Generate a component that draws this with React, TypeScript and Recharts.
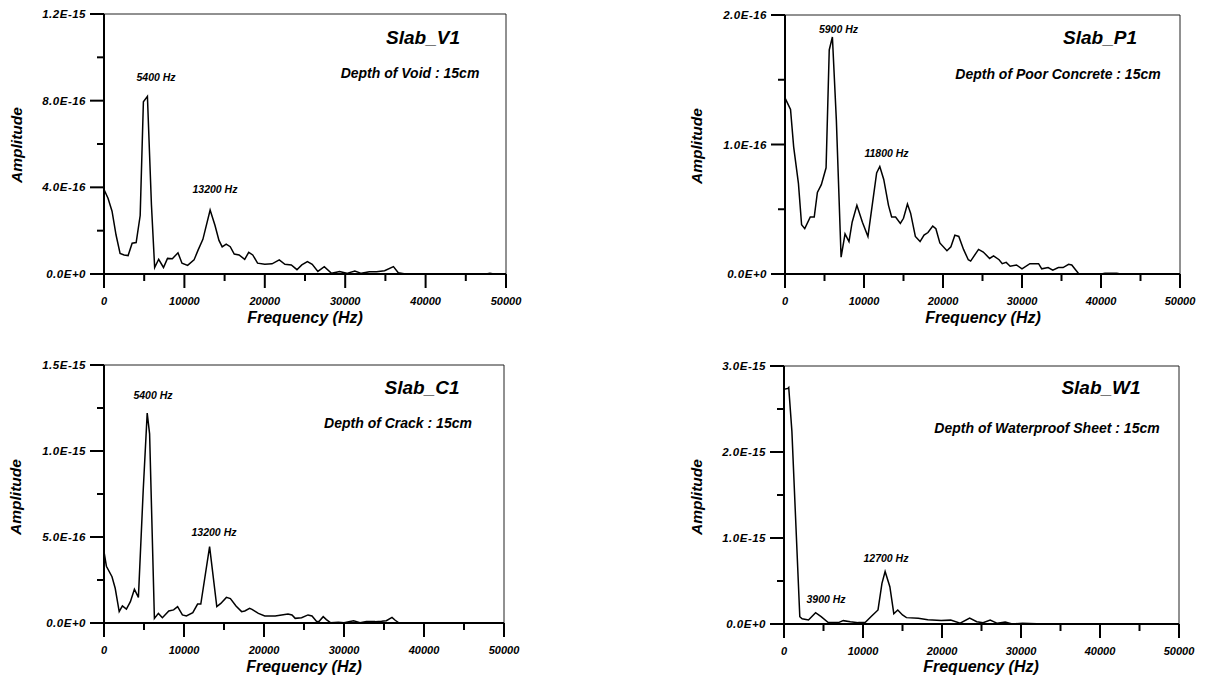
import React from 'react';
import { LineChart, Line, XAxis, YAxis, ReferenceArea, ReferenceDot } from 'recharts';

// Amplitudes are stored in units of 1E-16
const AMP_UNIT = 1e-16;
const FREQ_MAX = 50000;
const FREQ_TICKS = [0, 5000, 10000, 15000, 20000, 25000, 30000, 35000, 40000, 45000, 50000];
const FREQ_MAJOR = 10000;

// ---- Slab_V1 : Depth of Void : 15cm ----
const v1Freq = [0, 500, 1000, 1500, 2000, 2500, 3000, 3500, 4000, 4500, 4900, 5400, 5900, 6300, 6800, 7400, 7900, 8500, 9200, 9700, 10400, 11200, 11700, 12300, 13200, 13800, 14300, 14700, 15200, 15700, 16200, 16800, 17500, 18000, 18500, 19100, 20000, 20900, 21800, 22500, 23300, 24000, 24600, 25300, 25900, 26600, 27400, 28300, 29300, 30200, 31200, 32000, 33000, 33900, 34900, 36000, 36600, 37500, 40000, 45000, 47500, 48000, 48500, 50000];
const v1Amp = [3.9, 3.5, 2.9, 1.8, 0.95, 0.88, 0.85, 1.42, 1.45, 2.7, 7.95, 8.2, 3.2, 0.3, 0.68, 0.3, 0.72, 0.7, 0.98, 0.5, 0.4, 0.65, 1.1, 1.6, 2.95, 2.25, 1.55, 1.25, 1.38, 1.26, 0.92, 0.88, 0.68, 1.0, 0.88, 0.5, 0.45, 0.47, 0.65, 0.45, 0.42, 0.2, 0.42, 0.57, 0.45, 0.12, 0.34, 0.03, 0.11, 0.03, 0.14, 0.03, 0.1, 0.1, 0.15, 0.34, 0.06, 0, 0, 0, 0, 0.03, 0, 0];
const v1YTicks = [0, 2, 4, 6, 8, 10, 12];
const v1PeakText = ['5400 Hz', '13200 Hz'];
const v1PeakFreq = [6470, 13800];
const v1PeakAmp = [8.9, 3.74];

// ---- Slab_P1 : Depth of Poor Concrete : 15cm ----
const p1Freq = [0, 700, 1100, 1700, 2100, 2500, 3200, 3700, 4100, 4600, 5200, 5600, 6000, 6500, 7100, 7600, 8100, 8500, 9100, 9800, 10500, 11600, 12000, 12500, 13100, 13500, 14000, 14600, 15000, 15500, 15900, 16500, 17100, 17600, 18100, 18700, 19100, 19600, 20500, 21000, 21500, 22000, 22600, 23200, 23500, 24500, 25100, 25900, 26400, 27100, 27500, 28000, 28500, 29300, 30000, 31000, 32100, 32500, 33300, 33900, 34600, 35200, 35900, 36300, 37200, 40000, 40500, 41500, 42000, 42500, 50000];
const p1Amp = [1.36, 1.27, 0.98, 0.7, 0.38, 0.35, 0.44, 0.44, 0.63, 0.69, 0.82, 1.73, 1.83, 1.19, 0.13, 0.31, 0.25, 0.4, 0.53, 0.4, 0.29, 0.78, 0.83, 0.73, 0.53, 0.44, 0.44, 0.39, 0.43, 0.54, 0.47, 0.29, 0.25, 0.3, 0.32, 0.37, 0.35, 0.24, 0.18, 0.21, 0.3, 0.29, 0.19, 0.11, 0.1, 0.19, 0.17, 0.12, 0.14, 0.11, 0.08, 0.09, 0.06, 0.07, 0.04, 0.08, 0.08, 0.04, 0.05, 0.03, 0.05, 0.05, 0.075, 0.07, 0, 0, 0.005, 0.005, 0.005, 0, 0];
const p1YTicks = [0, 0.5, 1, 1.5, 2];
const p1PeakText = ['5900 Hz', '11800 Hz'];
const p1PeakFreq = [6770, 12850];
const p1PeakAmp = [1.86, 0.9];

// ---- Slab_C1 : Depth of Crack : 15cm ----
const c1Freq = [0, 300, 1000, 1400, 1900, 2300, 2800, 3300, 3800, 4300, 4900, 5400, 5700, 6300, 6800, 7300, 8100, 8700, 9200, 9800, 10300, 11100, 11700, 12100, 13200, 14100, 14600, 15300, 15800, 16500, 17200, 17600, 18200, 18500, 19300, 20100, 21400, 22200, 23000, 23500, 23900, 24700, 25500, 26000, 26600, 26900, 27400, 27800, 28300, 29300, 30000, 31200, 32000, 32800, 33900, 34700, 35300, 36000, 36400, 36900, 50000];
const c1Amp = [4.15, 3.3, 2.69, 2.02, 0.66, 0.99, 0.81, 1.24, 1.96, 1.49, 7.7, 12.2, 11.0, 0.27, 0.56, 0.31, 0.7, 0.76, 0.95, 0.47, 0.41, 0.6, 1.1, 1.1, 4.44, 0.95, 1.14, 1.49, 1.42, 0.99, 0.66, 0.7, 0.85, 0.79, 0.56, 0.41, 0.41, 0.47, 0.52, 0.47, 0.27, 0.31, 0.47, 0.41, 0.08, 0.1, 0.37, 0.2, 0.02, 0.04, 0.02, 0.13, 0.02, 0.08, 0.08, 0.1, 0.13, 0.33, 0.16, 0, 0];
const c1YTicks = [0, 2.5, 5, 7.5, 10, 12.5, 15];
const c1PeakText = ['5400 Hz', '13200 Hz'];
const c1PeakFreq = [6120, 13750];
const c1PeakAmp = [13.0, 5.06];

// ---- Slab_W1 : Depth of Waterproof Sheet : 15cm ----
const w1Freq = [0, 500, 600, 1000, 2000, 2300, 3100, 4000, 4700, 5600, 6900, 7500, 8400, 9400, 10300, 11100, 11900, 12400, 12800, 13400, 13900, 14400, 15000, 15500, 17000, 18200, 19900, 21100, 22300, 23500, 24400, 25200, 26100, 27000, 28000, 28900, 30200, 32000, 50000];
const w1Amp = [27.3, 27.4, 27.5, 22.4, 0.85, 0.6, 0.47, 1.31, 0.85, 0.16, 0.16, 0.39, 0.27, 0.16, 0.2, 0.93, 1.63, 4.73, 6.1, 4.34, 1.2, 1.63, 1.05, 0.74, 0.66, 0.5, 0.4, 0.45, 0.1, 0.7, 0.27, 0.16, 0.47, 0.08, 0.23, 0.0, 0.08, 0.02, 0];
const w1YTicks = [0, 5, 10, 15, 20, 25, 30];
const w1PeakText = ['3900 Hz', '12700 Hz'];
const w1PeakFreq = [5320, 12910];
const w1PeakAmp = [2.44, 7.2];

const FONT = '"Liberation Sans", Arial, Helvetica, sans-serif';

const fmtAmp = (v: number) => (v * AMP_UNIT).toExponential(1).toUpperCase();
const isMajor = (v: number, step: number) => Math.abs(v / step - Math.round(v / step)) < 1e-6;

const YTick = (props: any) => {
  const { x, y, payload, major } = props;
  const mj = isMajor(payload.value, major);
  return (
    <g>
      <line x1={x - (mj ? 14 : 7)} x2={x} y1={y} y2={y} stroke="#000" strokeWidth={2} />
      {mj && (
        <text x={x - 18} y={y} dy="0.36em" textAnchor="end" fontFamily={FONT} fontWeight="bold" fontStyle="italic" fontSize={11.5} letterSpacing={0.5} fill="#000">
          {fmtAmp(payload.value)}
        </text>
      )}
    </g>
  );
};

const XTick = (props: any) => {
  const { x, y, payload } = props;
  const mj = isMajor(payload.value, FREQ_MAJOR);
  return (
    <g>
      <line x1={x} x2={x} y1={y} y2={y + (mj ? 14 : 7)} stroke="#000" strokeWidth={2} />
      {mj && (
        <text x={x} y={y + 31} textAnchor="middle" fontFamily={FONT} fontWeight="bold" fontStyle="italic" fontSize={11} fill="#000">
          {payload.value}
        </text>
      )}
    </g>
  );
};

type PanelDef = {
  freq: number[]; amp: number[]; yTicks: number[]; yMajor: number;
  peakText: string[]; peakFreq: number[]; peakAmp: number[];
  chart: { left: number; top: number; width: number; height: number };
  box: { x0: number; y0: number; x1: number; y1: number };
  title: string; subtitle: string;
  titleX: number; titleY: number; subX: number; subY: number;
  ampX: number; ampY: number; freqX: number; freqY: number;
};

const panels: PanelDef[] = [
  {
    freq: v1Freq, amp: v1Amp, yTicks: v1YTicks, yMajor: 4,
    peakText: v1PeakText, peakFreq: v1PeakFreq, peakAmp: v1PeakAmp,
    chart: { left: 0, top: 0, width: 560, height: 335 },
    box: { x0: 104, y0: 14, x1: 506, y1: 274 },
    title: 'Slab_V1', subtitle: 'Depth of Void : 15cm',
    titleX: 423, titleY: 44, subX: 410, subY: 78,
    ampX: 22, ampY: 145, freqX: 305, freqY: 323,
  },
  {
    freq: p1Freq, amp: p1Amp, yTicks: p1YTicks, yMajor: 1,
    peakText: p1PeakText, peakFreq: p1PeakFreq, peakAmp: p1PeakAmp,
    chart: { left: 680, top: 0, width: 530, height: 335 },
    box: { x0: 785, y0: 15, x1: 1180, y1: 274 },
    title: 'Slab_P1', subtitle: 'Depth of Poor Concrete : 15cm',
    titleX: 1100, titleY: 44, subX: 1058, subY: 79,
    ampX: 702, ampY: 146, freqX: 983, freqY: 323,
  },
  {
    freq: c1Freq, amp: c1Amp, yTicks: c1YTicks, yMajor: 5,
    peakText: c1PeakText, peakFreq: c1PeakFreq, peakAmp: c1PeakAmp,
    chart: { left: 0, top: 340, width: 560, height: 337 },
    box: { x0: 104, y0: 365, x1: 504, y1: 623 },
    title: 'Slab_C1', subtitle: 'Depth of Crack : 15cm',
    titleX: 422, titleY: 394, subX: 398, subY: 428,
    ampX: 21, ampY: 497, freqX: 304, freqY: 672,
  },
  {
    freq: w1Freq, amp: w1Amp, yTicks: w1YTicks, yMajor: 10,
    peakText: w1PeakText, peakFreq: w1PeakFreq, peakAmp: w1PeakAmp,
    chart: { left: 680, top: 340, width: 530, height: 337 },
    box: { x0: 784, y0: 366, x1: 1179, y1: 624 },
    title: 'Slab_W1', subtitle: 'Depth of Waterproof Sheet : 15cm',
    titleX: 1101, titleY: 394, subX: 1047, subY: 433,
    ampX: 702, ampY: 497, freqX: 981, freqY: 672,
  },
];

const Y_AXIS_W = 60;
const X_AXIS_H = 40;

function Panel({ p }: { p: PanelDef }) {
  const data = p.freq.map((f, i) => ({ f, a: p.amp[i] }));
  const yMax = p.yTicks[p.yTicks.length - 1];
  const margin = {
    left: p.box.x0 - p.chart.left - Y_AXIS_W,
    top: p.box.y0 - p.chart.top,
    right: p.chart.left + p.chart.width - p.box.x1,
    bottom: p.chart.top + p.chart.height - p.box.y1 - X_AXIS_H,
  };
  return (
    <div style={{ position: 'absolute', left: p.chart.left, top: p.chart.top }}>
      <LineChart width={p.chart.width} height={p.chart.height} data={data} margin={margin}>
        <ReferenceArea x1={0} x2={FREQ_MAX} y1={0} y2={yMax} fill="none" fillOpacity={0} stroke="#222" strokeWidth={1} ifOverflow="visible" />
        <XAxis
          type="number" dataKey="f" domain={[0, FREQ_MAX]} ticks={FREQ_TICKS} interval={0}
          height={X_AXIS_H} tickLine={false} tickSize={0} tickMargin={0}
          axisLine={{ stroke: '#000', strokeWidth: 2 }} tick={(props: any) => <XTick {...props} />} allowDataOverflow
        />
        <YAxis
          type="number" domain={[0, yMax]} ticks={p.yTicks} interval={0}
          width={Y_AXIS_W} tickLine={false} tickSize={0} tickMargin={0}
          axisLine={{ stroke: '#000', strokeWidth: 2 }} tick={(props: any) => <YTick {...props} major={p.yMajor} />} allowDataOverflow
        />
        <Line dataKey="a" type="linear" stroke="#000" strokeWidth={1.5} dot={false} isAnimationActive={false} />
        {p.peakText.map((t, i) => (
          <ReferenceDot
            key={t}
            x={p.peakFreq[i]}
            y={p.peakAmp[i]}
            r={1}
            ifOverflow="visible"
            shape={(sp: any) => (
              <text x={sp.cx} y={sp.cy} textAnchor="middle" fontFamily={FONT} fontWeight="bold" fontStyle="italic" fontSize={10.5} fill="#000">
                {t}
              </text>
            )}
          />
        ))}
      </LineChart>
    </div>
  );
}

export default function App() {
  const textStyle = { fontFamily: FONT, fontWeight: 'bold' as const, fontStyle: 'italic' as const, fill: '#000' };
  return (
    <div style={{ position: 'absolute', left: 0, top: 0, width: 1210, height: 677, background: '#fff', overflow: 'hidden' }}>
      {panels.map((p) => (
        <Panel key={p.title} p={p} />
      ))}
      <svg width={1210} height={677} style={{ position: 'absolute', left: 0, top: 0, pointerEvents: 'none' }}>
        {panels.map((p) => (
          <g key={p.title}>
            <text x={p.titleX} y={p.titleY} textAnchor="middle" fontSize={19} {...textStyle}>{p.title}</text>
            <text x={p.subX} y={p.subY} textAnchor="middle" fontSize={14} {...textStyle}>{p.subtitle}</text>
            <text x={p.ampX} y={p.ampY} textAnchor="middle" fontSize={15.5} transform={`rotate(-90 ${p.ampX} ${p.ampY})`} {...textStyle}>Amplitude</text>
            <text x={p.freqX} y={p.freqY} textAnchor="middle" fontSize={16} {...textStyle}>Frequency (Hz)</text>
          </g>
        ))}
      </svg>
    </div>
  );
}
